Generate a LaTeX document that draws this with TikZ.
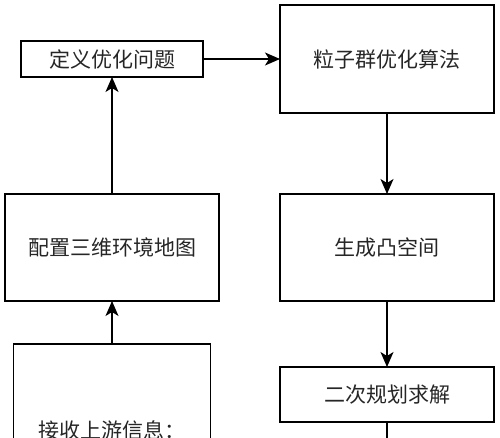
\documentclass[tikz,border=0pt]{standalone}
\usepackage{fontspec}
\newfontfamily\cjk{Noto Sans CJK SC}
\usetikzlibrary{arrows.meta}
\tikzset{
  box/.style={draw=black, line width=1.3pt, inner sep=0pt, outer sep=0pt, font=\cjk\fontsize{21}{25}\selectfont, text=black!85},
  lbl/.style={inner sep=0pt, font=\cjk\fontsize{21}{25}\selectfont, text=black!85},
  arr/.style={line width=1.3pt, -{Stealth[length=15pt,width=13pt,inset=4pt]}},
  plain/.style={line width=1.3pt}
}
\begin{document}
\begin{tikzpicture}[x=1pt,y=-1pt]
\useasboundingbox (0,0) rectangle (500,437);
\clip (0,0) rectangle (500,437);
\node[box, minimum width=182pt, minimum height=36pt] (n1) at (112,59) {定义优化问题};
\node[box, minimum width=214pt, minimum height=108pt] (n2) at (387,59) {粒子群优化算法};
\node[box, minimum width=214pt, minimum height=107pt] (n3) at (387,247.5) {生成凸空间};
\node[box, minimum width=214pt, minimum height=55pt] (n4) at (387,394.5) {二次规划求解};
\node[box, minimum width=214pt, minimum height=107pt] (n5) at (112,247.5) {配置三维环境地图};
\node[box, minimum width=197pt, minimum height=160pt] (n6) at (112,424) {};
\node[lbl, anchor=west] (t6) at (38,430) {接收上游信息：};
\coordinate (end4) at (387,450);
\draw[arr] (n1.east) -- (n2.west);
\draw[arr] (n2.south) -- (n3.north);
\draw[arr] (n3.south) -- (n4.north);
\draw[plain] (n4.south) -- (end4);
\draw[arr] (n5.north) -- (n1.south);
\draw[arr] (n6.north) -- (n5.south);
\end{tikzpicture}
\end{document}
